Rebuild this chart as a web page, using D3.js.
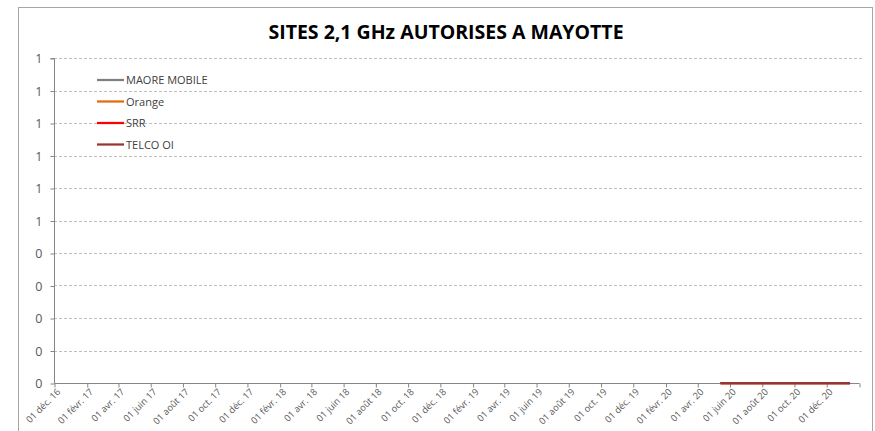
<!DOCTYPE html>
<html lang="fr">
<head>
<meta charset="UTF-8">
<title>Sites 2,1 GHz autorisés à Mayotte</title>
<script src="https://d3js.org/d3.v7.min.js"></script>
<style>
  body { margin: 0; background: #fff; font-family: "Open Sans", "Liberation Sans", sans-serif; }
  svg { display: block; }
</style>
</head>
<body>
<svg id="chart" width="875" height="431"></svg>
<script>
// données
const titre = "SITES 2,1 GHz AUTORISES A MAYOTTE";
const operateurs = ["MAORE MOBILE", "Orange", "SRR", "TELCO OI"];
const couleurs = ["#7f7f7f", "#e46c0a", "#ff0000", "#943634"];
const dates = ["2020-05-15", "2020-06-15", "2020-07-15", "2020-08-15", "2020-09-15",
               "2020-10-15", "2020-11-15", "2020-12-15", "2021-01-15"];
const maoreMobile = [0, 0, 0, 0, 0, 0, 0, 0, 0];
const orange      = [0, 0, 0, 0, 0, 0, 0, 0, 0];
const srr         = [0, 0, 0, 0, 0, 0, 0, 0, 0];
const telcoOi     = [0, 0, 0, 0, 0, 0, 0, 0, 0];
const valeurs = [maoreMobile, orange, srr, telcoOi];
const ticksDates = ["2016-12-01", "2017-02-01", "2017-04-01", "2017-06-01", "2017-08-01",
  "2017-10-01", "2017-12-01", "2018-02-01", "2018-04-01", "2018-06-01", "2018-08-01",
  "2018-10-01", "2018-12-01", "2019-02-01", "2019-04-01", "2019-06-01", "2019-08-01",
  "2019-10-01", "2019-12-01", "2020-02-01", "2020-04-01", "2020-06-01", "2020-08-01",
  "2020-10-01", "2020-12-01", "2021-02-01"];
const ticksLabels = ["01 déc. 16", "01 févr. 17", "01 avr. 17", "01 juin 17", "01 août 17",
  "01 oct. 17", "01 déc. 17", "01 févr. 18", "01 avr. 18", "01 juin 18", "01 août 18",
  "01 oct. 18", "01 déc. 18", "01 févr. 19", "01 avr. 19", "01 juin 19", "01 août 19",
  "01 oct. 19", "01 déc. 19", "01 févr. 20", "01 avr. 20", "01 juin 20", "01 août 20",
  "01 oct. 20", "01 déc. 20", ""];
const yTicks = [0, 0.1, 0.2, 0.3, 0.4, 0.5, 0.6, 0.7, 0.8, 0.9, 1];

const svg = d3.select("#chart");
const parse = d3.timeParse("%Y-%m-%d");

// cadre du graphique
svg.append("rect")
  .attr("x", 18.5).attr("y", 7.5).attr("width", 854).attr("height", 430)
  .attr("fill", "none").attr("stroke", "#a6a6a6");

const x = d3.scaleTime()
  .domain([parse("2016-12-01"), parse("2021-02-01")])
  .range([54, 859]);
const y = d3.scaleLinear().domain([0, 1]).range([383, 58]);

// titre
svg.append("text")
  .attr("x", 446).attr("y", 39)
  .attr("text-anchor", "middle")
  .attr("font-size", 19.5).attr("font-weight", "bold")
  .attr("fill", "#000")
  .text(titre);

// grille
svg.append("g").selectAll("line")
  .data(yTicks.slice(1))
  .join("line")
  .attr("x1", 54).attr("x2", 862)
  .attr("y1", d => Math.round(y(d)) + 0.5).attr("y2", d => Math.round(y(d)) + 0.5)
  .attr("stroke", "#bfbfbf").attr("stroke-dasharray", "3,2");

// axe y
const axeY = svg.append("g")
  .attr("transform", "translate(54.5,0.5)")
  .call(d3.axisLeft(y).tickValues(yTicks).tickSize(4).tickPadding(8)
    .tickFormat(d => Math.round(d)));
axeY.select(".domain").attr("stroke", "#868686").attr("d", "M-4," + y(1) + "H0V" + y(0));
axeY.selectAll(".tick line").attr("stroke", "#868686");
axeY.selectAll("text").attr("font-size", 12.5).attr("fill", "#595959")
  .attr("font-family", "Open Sans, Liberation Sans, sans-serif");

// axe x
const axeX = svg.append("g")
  .attr("transform", "translate(0.5,383.5)")
  .call(d3.axisBottom(x).tickValues(ticksDates.map(parse)).tickSize(4)
    .tickFormat((d, i) => ticksLabels[i]));
axeX.select(".domain").attr("stroke", "#868686").attr("d", "M54,0H859");
axeX.selectAll(".tick line").attr("stroke", "#868686");
axeX.selectAll("text")
  .attr("font-size", 9.3).attr("fill", "#595959")
  .attr("font-family", "Open Sans, Liberation Sans, sans-serif")
  .attr("text-anchor", "end")
  .attr("y", 0).attr("dy", 0)
  .attr("transform", "translate(6,9) rotate(-45)");

// séries
const ligne = d3.line()
  .x(d => x(parse(d.date)))
  .y(d => y(d.v));
valeurs.forEach((serie, i) => {
  svg.append("path")
    .datum(serie.map((v, j) => ({ date: dates[j], v: v })))
    .attr("d", ligne)
    .attr("fill", "none")
    .attr("stroke", couleurs[i])
    .attr("stroke-width", 2.25);
});

// légende
const legende = svg.append("g");
operateurs.forEach((nom, i) => {
  const ly = 80 + i * 21.5;
  legende.append("line")
    .attr("x1", 97).attr("x2", 124).attr("y1", ly).attr("y2", ly)
    .attr("stroke", couleurs[i]).attr("stroke-width", 2.25);
  legende.append("text")
    .attr("x", 126).attr("y", ly + 4)
    .attr("font-size", 11).attr("fill", "#404040")
    .text(nom);
});
</script>
</body>
</html>
